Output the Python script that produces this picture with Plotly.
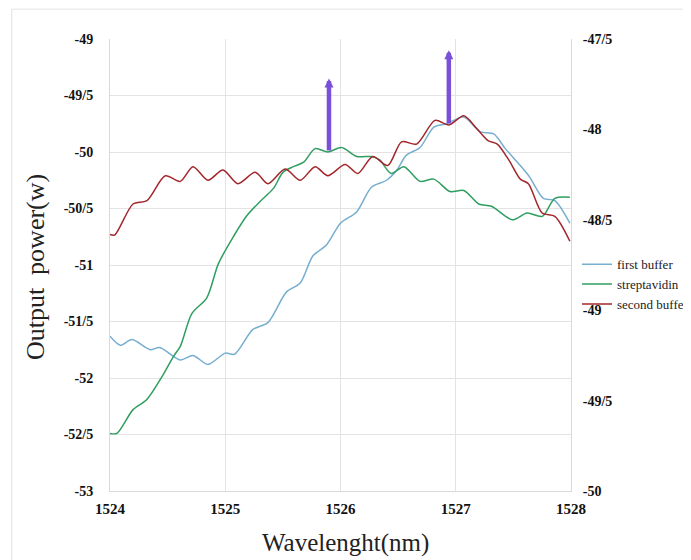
import plotly.graph_objects as go

# first buffer (left axis units)
fb_wl = [1524.00, 1524.09, 1524.19, 1524.35, 1524.43, 1524.61, 1524.72, 1524.85, 1525.00, 1525.08,
         1525.24, 1525.37, 1525.53, 1525.65, 1525.76, 1525.88, 1526.00, 1526.14, 1526.27, 1526.40,
         1526.49, 1526.57, 1526.69, 1526.81, 1526.92, 1527.07, 1527.21, 1527.33, 1527.43, 1527.56,
         1527.64, 1527.76, 1527.86, 1527.99]
fb_val = [-51.63, -51.71, -51.66, -51.75, -51.73, -51.84, -51.80, -51.88, -51.78, -51.79,
          -51.57, -51.51, -51.24, -51.16, -50.92, -50.82, -50.63, -50.53, -50.31, -50.25,
          -50.16, -50.03, -49.96, -49.78, -49.75, -49.69, -49.82, -49.84, -49.97, -50.12,
          -50.22, -50.41, -50.43, -50.63]

# streptavidin (left axis units)
st_wl = [1524.00, 1524.06, 1524.20, 1524.32, 1524.45, 1524.55, 1524.61, 1524.71, 1524.84, 1524.94,
         1525.07, 1525.19, 1525.30, 1525.42, 1525.50, 1525.59, 1525.68, 1525.78, 1525.89, 1526.01,
         1526.14, 1526.27, 1526.34, 1526.44, 1526.55, 1526.69, 1526.81, 1526.95, 1527.07, 1527.20,
         1527.31, 1527.49, 1527.62, 1527.75, 1527.86, 1527.99]
st_val = [-52.49, -52.49, -52.28, -52.19, -51.99, -51.81, -51.72, -51.43, -51.29, -50.99,
          -50.75, -50.56, -50.44, -50.32, -50.18, -50.13, -50.09, -49.97, -50.00, -49.96,
          -50.04, -50.04, -50.07, -50.19, -50.13, -50.26, -50.24, -50.35, -50.34, -50.46,
          -50.48, -50.60, -50.54, -50.57, -50.41, -50.40]

# second buffer (left axis units)
sb_wl = [1524.00, 1524.04, 1524.20, 1524.32, 1524.48, 1524.61, 1524.72, 1524.85, 1524.98, 1525.11,
         1525.26, 1525.37, 1525.52, 1525.65, 1525.78, 1525.89, 1526.04, 1526.15, 1526.28, 1526.41,
         1526.53, 1526.66, 1526.82, 1526.94, 1527.07, 1527.18, 1527.28, 1527.36, 1527.46, 1527.56,
         1527.63, 1527.75, 1527.86, 1527.99]
sb_val = [-50.73, -50.735, -50.46, -50.43, -50.21, -50.26, -50.13, -50.25, -50.16, -50.28,
          -50.18, -50.28, -50.15, -50.25, -50.13, -50.21, -50.11, -50.19, -50.04, -50.12,
          -49.91, -49.93, -49.72, -49.76, -49.68, -49.79, -49.90, -49.93, -50.07, -50.24,
          -50.28, -50.54, -50.57, -50.79]

x_ticks = [1524, 1525, 1526, 1527, 1528]
left_tickvals = [-49, -49.5, -50, -50.5, -51, -51.5, -52, -52.5, -53]
left_ticktext = ["-49", "-49/5", "-50", "-50/5", "-51", "-51/5", "-52", "-52/5", "-53"]
right_tickvals = [-47.5, -48, -48.5, -49, -49.5, -50]
right_ticktext = ["-47/5", "-48", "-48/5", "-49", "-49/5", "-50"]

# arrows: (wavelength, base value, tip value)
arrow_wl = [1525.90, 1526.94]
arrow_base = [-50.0, -49.76]
arrow_tip = [-49.35, -49.10]

serif = "Liberation Serif, Times New Roman, serif"

fig = go.Figure()
fig.add_trace(go.Scatter(x=fb_wl, y=fb_val, mode="lines", name="first buffer",
                         line=dict(color="#76aed0", width=1.5, shape="spline", smoothing=0.8)))
fig.add_trace(go.Scatter(x=st_wl, y=st_val, mode="lines", name="streptavidin",
                         line=dict(color="#2f9e60", width=1.5, shape="spline", smoothing=0.8)))
fig.add_trace(go.Scatter(x=sb_wl, y=sb_val, mode="lines", name="second buffer",
                         line=dict(color="#a3262b", width=1.5, shape="spline", smoothing=0.8)))
# invisible helper trace to display the secondary (right) axis
fig.add_trace(go.Scatter(x=[x_ticks[0]], y=[right_tickvals[0]], yaxis="y2", mode="markers",
                         marker=dict(opacity=0), showlegend=False, hoverinfo="skip"))

for wl, b, t in zip(arrow_wl, arrow_base, arrow_tip):
    fig.add_annotation(x=wl, y=t, ax=wl, ay=b, xref="x", yref="y", axref="x", ayref="y",
                       showarrow=True, arrowhead=2, arrowsize=0.4, arrowwidth=4.5,
                       arrowcolor="#7a50d8", text="")

# axis titles
fig.add_annotation(text="Output\u00a0\u00a0power(w)", xref="paper", yref="paper",
                   x=-0.163, y=0.495, xanchor="center", yanchor="middle", textangle=-90,
                   showarrow=False, font=dict(size=26, family=serif, color="#222"))
fig.add_annotation(text="Wavelenght(nm)", xref="paper", yref="paper",
                   x=0.51, y=-0.115, xanchor="center", yanchor="middle",
                   showarrow=False, font=dict(size=25, family=serif, color="#222"))

# faint outer frame
fig.add_shape(type="rect", xref="paper", yref="paper", x0=-0.213, x1=1.5, y0=-0.3, y1=1.066,
              line=dict(color="#e2e2e2", width=1), fillcolor="rgba(0,0,0,0)", layer="below")

fig.update_layout(
    width=683, height=552,
    margin=dict(l=102, r=120, t=31, b=69, autoexpand=False),
    paper_bgcolor="white", plot_bgcolor="white",
    font=dict(family=serif, color="#222"),
    xaxis=dict(range=[1524, 1528], tickvals=x_ticks, showgrid=True, gridcolor="#e3e3e3",
               zeroline=False, showline=True, linecolor="#d9d9d9", ticks="", automargin=False,
               ticklabelstandoff=4,
               tickfont=dict(size=15, family=serif, color="#111", weight="bold")),
    yaxis=dict(range=[-53, -49], tickvals=left_tickvals, ticktext=left_ticktext,
               showgrid=True, gridcolor="#e3e3e3", zeroline=False, showline=True,
               linecolor="#d9d9d9", ticks="", ticklabelstandoff=13, automargin=False,
               tickfont=dict(size=14, family=serif, color="#111", weight="bold")),
    yaxis2=dict(range=[-50, -47.5], tickvals=right_tickvals, ticktext=right_ticktext,
                overlaying="y", side="right", showgrid=False, zeroline=False, showline=True,
                linecolor="#d9d9d9", ticks="", ticklabelstandoff=8, automargin=False,
                tickfont=dict(size=14, family=serif, color="#111", weight="bold")),
    legend=dict(x=1.013, y=0.535, xanchor="left", yanchor="top", bgcolor="rgba(0,0,0,0)",
                font=dict(size=13, family=serif, color="#222"), tracegroupgap=0,
                itemwidth=30),
    showlegend=True,
)

fig.write_html("out.html")
